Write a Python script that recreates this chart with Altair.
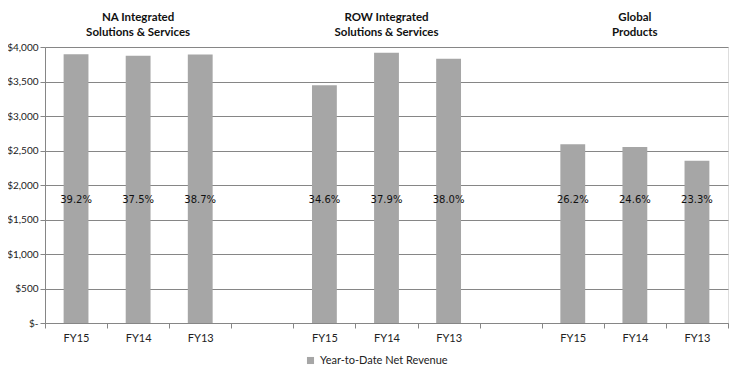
import altair as alt
import pandas as pd

segments = ["NA", "ROW", "Global"]
segment_titles = ["NA Integrated\nSolutions & Services",
                  "ROW Integrated\nSolutions & Services",
                  "Global\nProducts"]
years = ["FY15", "FY14", "FY13"]
revenue_na = [3895, 3875, 3890]
revenue_row = [3445, 3915, 3830]
revenue_global = [2590, 2550, 2350]
margin_na = ["39.2%", "37.5%", "38.7%"]
margin_row = ["34.6%", "37.9%", "38.0%"]
margin_global = ["26.2%", "24.6%", "23.3%"]
y_ticks = [0, 500, 1000, 1500, 2000, 2500, 3000, 3500, 4000]
series_name = "Year-to-Date Net Revenue"
label_level = 1780

revenues = [revenue_na, revenue_row, revenue_global]
margins = [margin_na, margin_row, margin_global]

rows = []
slots = []
title_rows = []
for i, seg in enumerate(segments):
    if i > 0:
        slots.append(f"gap{i}")
    for j, yr in enumerate(years):
        key = f"{seg}|{yr}"
        slots.append(key)
        rows.append({"slot": key, "segment": seg, "year": yr,
                     "revenue": revenues[i][j], "margin": margins[i][j],
                     "series": series_name})
    title_rows.append({"slot": f"{seg}|{years[1]}", "title": segment_titles[i]})

df = pd.DataFrame(rows)
tdf = pd.DataFrame(title_rows)

FONT = "Lato"
GRID = "#868686"

x_enc = alt.X("slot:N", scale=alt.Scale(domain=slots, paddingInner=0, paddingOuter=0),
              axis=alt.Axis(title=None, tickBand="extent", grid=False,
                            labelExpr="indexof(datum.label,'|')>=0 ? split(datum.label,'|')[1] : ''",
                            labelAngle=0, labelFont=FONT, labelFontSize=11, labelColor="#222",
                            labelPadding=4, tickSize=5, tickColor=GRID, domainColor=GRID))
y_scale = alt.Scale(domain=[0, 4000], nice=False)
y_axis = alt.Axis(title=None, values=y_ticks, tickCount=9, grid=True, gridColor=GRID,
                  domainColor=GRID, tickColor=GRID, tickSize=5,
                  labelOverlap=False,
                  labelExpr="datum.value == 0 ? '$-' : '$' + format(datum.value, ',')",
                  labelFont=FONT, labelFontSize=10, labelColor="#222", labelPadding=2)

bars = alt.Chart(df).mark_bar(width=alt.RelativeBandSize(0.4), color="#A6A6A6").encode(
    x=x_enc,
    y=alt.Y("revenue:Q", scale=y_scale, axis=y_axis),
    color=alt.Color("series:N", scale=alt.Scale(range=["#A6A6A6"]),
                    legend=alt.Legend(title=None, orient="none", legendX=260, legendY=308,
                                      symbolType="square", symbolSize=50,
                                      labelFont=FONT, labelFontSize=11, labelColor="#222")),
)

labels = alt.Chart(df).mark_text(font="DejaVu Sans", fontSize=10, color="#111",
                                 baseline="middle").encode(
    x=alt.X("slot:N"),
    y=alt.YDatum(label_level, scale=y_scale, axis=y_axis),
    text="margin:N",
)

titles = alt.Chart(tdf).mark_text(font=FONT, fontSize=11.5, fontWeight="bold", color="#111",
                                  baseline="bottom", lineBreak="\n", lineHeight=15,
                                  dy=-24).encode(
    x=alt.X("slot:N"),
    y=alt.YDatum(4000, scale=y_scale, axis=y_axis),
    text="title:N",
)

chart = alt.layer(bars, labels, titles).properties(
    width=683, height=276,
    autosize=alt.AutoSizeParams(type="none"),
    padding={"left": 37, "top": 39, "right": 2, "bottom": 45},
).configure_view(stroke=None).configure(background="white")

chart.save("out.html", embed_options={"renderer": "svg", "actions": False})
